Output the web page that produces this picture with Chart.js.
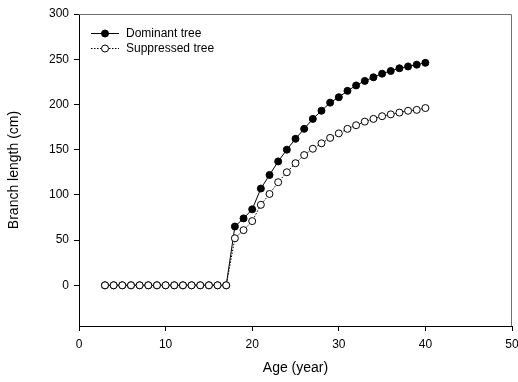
<!DOCTYPE html>
<html>
<head>
<meta charset="utf-8">
<script src="https://cdn.jsdelivr.net/npm/chart.js@4/dist/chart.umd.min.js"></script>
<style>
  body { margin: 0; background: #fff; }
  #wrap { width: 518px; height: 382px; }
</style>
</head>
<body>
<div id="wrap"><canvas id="branchChart" width="518" height="382"></canvas></div>
<script>
// Data
const ages = [3, 4, 5, 6, 7, 8, 9, 10, 11, 12, 13, 14, 15, 16, 17,
    18, 19, 20, 21, 22, 23, 24, 25, 26, 27, 28, 29, 30, 31, 32, 33, 34, 35, 36, 37, 38, 39, 40];
const dominant = [0, 0, 0, 0, 0, 0, 0, 0, 0, 0, 0, 0, 0, 0, 0,
    65, 74, 84, 107, 122, 137, 150, 162, 173, 184, 193, 202, 208, 215, 221, 226, 230, 234, 237, 240, 242, 244, 246];
const suppressed = [0, 0, 0, 0, 0, 0, 0, 0, 0, 0, 0, 0, 0, 0, 0,
    52, 61, 71, 89, 101, 114, 125, 135, 144, 151, 157, 163, 168, 173, 177, 181, 184, 187, 189, 191, 193, 194, 196];
const yTickValues = [0, 50, 100, 150, 200, 250, 300];
const seriesNames = ['Dominant tree', 'Suppressed tree'];

const FONT = 'Arial, "Liberation Sans", Helvetica, sans-serif';

function toPoints(values) {
    return ages.map((a, i) => ({ x: a, y: values[i] }));
}

// Gray top / right frame lines
const framePlugin = {
    id: 'frame',
    beforeDatasetsDraw(chart) {
        const { ctx, chartArea: a } = chart;
        ctx.save();
        ctx.strokeStyle = '#707070';
        ctx.lineWidth = 1;
        ctx.beginPath();
        ctx.moveTo(a.left, a.top + 0.5);
        ctx.lineTo(a.right - 0.5, a.top + 0.5);
        ctx.lineTo(a.right - 0.5, a.bottom);
        ctx.stroke();
        ctx.restore();
    }
};

// Legend drawn inside the plot, top-left
const innerLegend = {
    id: 'innerLegend',
    afterDraw(chart) {
        const { ctx, chartArea: a } = chart;
        const x0 = a.left + 12;
        ctx.save();
        chart.data.datasets.forEach((ds, i) => {
            const y = a.top + 19 + i * 15;
            ctx.strokeStyle = '#000';
            ctx.lineWidth = 1;
            ctx.setLineDash(ds.borderDash || []);
            ctx.beginPath();
            ctx.moveTo(x0, y + 0.5);
            ctx.lineTo(x0 + 28, y + 0.5);
            ctx.stroke();
            ctx.setLineDash([]);
            ctx.beginPath();
            ctx.arc(x0 + 14, y + 0.5, 3.5, 0, Math.PI * 2);
            ctx.fillStyle = ds.pointBackgroundColor;
            ctx.fill();
            ctx.stroke();
            ctx.fillStyle = '#000';
            ctx.font = '12px ' + FONT;
            ctx.textBaseline = 'middle';
            ctx.fillText(ds.label, x0 + 35, y + 1);
        });
        ctx.restore();
    }
};

const ctx = document.getElementById('branchChart').getContext('2d');
new Chart(ctx, {
    type: 'scatter',
    data: {
        datasets: [{
            label: seriesNames[0],
            data: toPoints(dominant),
            showLine: true,
            borderColor: '#000',
            borderWidth: 1,
            pointBackgroundColor: '#000',
            pointBorderColor: '#000',
            pointBorderWidth: 1,
            pointRadius: 3.5,
            order: 1
        }, {
            label: seriesNames[1],
            data: toPoints(suppressed),
            showLine: true,
            borderColor: '#000',
            borderWidth: 1,
            borderDash: [1.5, 1.5],
            pointBackgroundColor: '#fff',
            pointBorderColor: '#000',
            pointBorderWidth: 1,
            pointRadius: 3.5,
            order: 0
        }]
    },
    options: {
        responsive: false,
        animation: false,
        layout: { padding: { top: 14, right: 6, left: 0, bottom: 0 } },
        plugins: {
            legend: { display: false },
            tooltip: { enabled: false }
        },
        scales: {
            x: {
                type: 'linear',
                min: 0,
                max: 50,
                ticks: { stepSize: 10, color: '#000', padding: 6, font: { family: FONT, size: 12 } },
                grid: { drawOnChartArea: false, tickLength: 5, color: '#000' },
                border: { color: '#000' },
                title: { display: true, text: 'Age (year)', color: '#000', font: { family: FONT, size: 14 }, padding: { top: 0, bottom: 5 } },
                afterFit(scale) {
                    scale.height = 56;
                    scale.paddingLeft = 0;
                    scale.paddingRight = 0;
                }
            },
            y: {
                type: 'linear',
                min: -45,
                max: 300,
                afterBuildTicks(scale) {
                    scale.ticks = yTickValues.map(v => ({ value: v }));
                },
                ticks: { color: '#000', padding: 5, font: { family: FONT, size: 12 } },
                grid: { drawOnChartArea: false, tickLength: 5, color: '#000' },
                border: { color: '#000' },
                title: { display: true, text: 'Branch length (cm)', color: '#000', font: { family: FONT, size: 14 }, padding: { top: 6, bottom: 0 } },
                afterFit(scale) {
                    scale.width = 79;
                    scale.paddingTop = 0;
                    scale.paddingBottom = 0;
                }
            }
        }
    },
    plugins: [framePlugin, innerLegend]
});
</script>
</body>
</html>
